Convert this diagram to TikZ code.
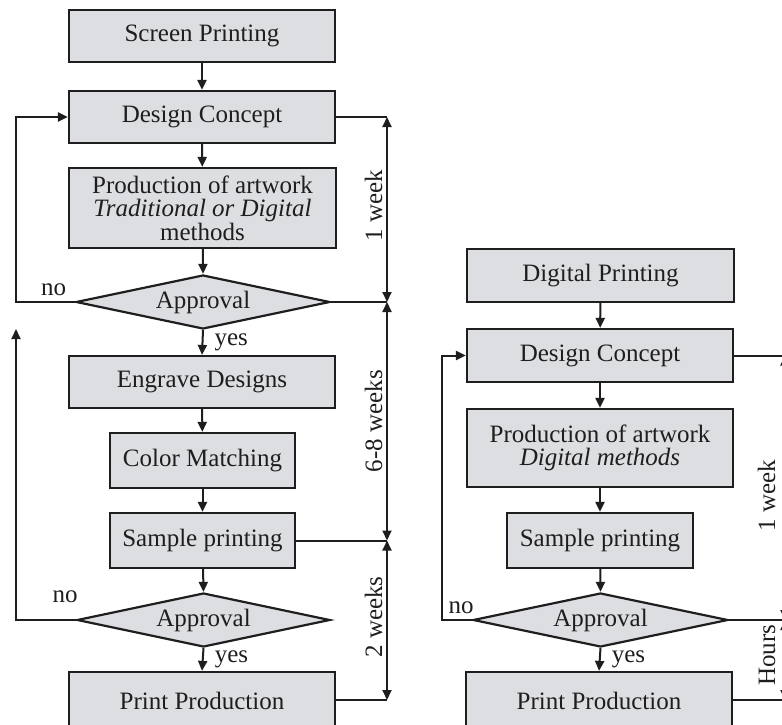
\documentclass[tikz,border=0pt]{standalone}
\usepackage{fontspec}
\setmainfont{Liberation Serif}
\usetikzlibrary{shapes.geometric,arrows.meta,calc}
\definecolor{boxfill}{RGB}{221,222,226}
\definecolor{ink}{RGB}{30,30,30}
\begin{document}
\begin{tikzpicture}[x=1pt,y=-1pt,
  every node/.style={font=\fontsize{25}{23.5}\selectfont, text=ink},
  box/.style={draw=ink, fill=boxfill, line width=2.2pt, rectangle, inner sep=0pt, align=center},
  dec/.style={draw=ink, fill=boxfill, line width=2.2pt, diamond, aspect=4.7, inner sep=0pt},
  arr/.style={draw=ink, line width=2pt, -{Triangle[length=10pt,width=9pt]}},
  dim/.style={draw=ink, line width=2pt, {Triangle[length=10pt,width=9pt]}-{Triangle[length=10pt,width=9pt]}},
  ln/.style={draw=ink, line width=2pt},
  lbl/.style={rotate=90, anchor=base, inner sep=0pt, text depth=0pt},
  yeslbl/.style={anchor=west, xshift=11pt, inner sep=0pt},
  nolbl/.style={inner sep=0pt},
]
\useasboundingbox (0,0) rectangle (782,725);
\clip (0,0) rectangle (782,725);

% ---------- left column ----------
\node[box, minimum width=266pt, minimum height=52pt] (sp) at (202,36) {Screen Printing};
\node[box, minimum width=266pt, minimum height=52pt] (dc) at (202,117) {Design Concept};
\node[box, minimum width=267pt, minimum height=80pt] (pa) at (202.5,208) {Production of artwork\\\textit{Traditional or Digital}\\methods};
\node[dec, minimum width=254pt, minimum height=54pt] (ap1) at (203,302) {Approval};
\node[box, minimum width=266pt, minimum height=52pt] (eng) at (202,382) {Engrave Designs};
\node[box, minimum width=185pt, minimum height=55pt] (cm) at (202.5,460.5) {Color Matching};
\node[box, minimum width=185pt, minimum height=55pt] (smp) at (202.5,540.5) {Sample printing};
\node[dec, minimum width=253pt, minimum height=54pt] (ap2) at (203.5,620) {Approval};
\node[box, minimum width=266pt, minimum height=58pt] (pp) at (202,701) {Print Production};

\draw[arr] (sp) -- (dc);
\draw[arr] (dc) -- (pa);
\draw[arr] (pa) -- (ap1.north);
\draw[arr] (ap1.south) -- node[yeslbl] (y1) {yes} (eng.north);
\draw[arr] (eng) -- (cm);
\draw[arr] (cm) -- (smp);
\draw[arr] (smp) -- (ap2.north);
\draw[arr] (ap2.south) -- node[yeslbl] (y2) {yes} (pp.north);

\coordinate (lx) at (16,0);
\draw[arr] (ap1.west) -- (ap1.west -| lx) |- (dc.west);
\node[nolbl] (n1) at (53.5,289.5) {no};
\coordinate (lend) at (16,329);
\draw[arr] (ap2.west) -| (lend);
\node[nolbl] (n2) at (65,596.5) {no};

\coordinate (dx) at (387,0);
\draw[ln] (dc.east) -- (dc.east -| dx);
\draw[ln] (ap1.east) -- (ap1.east -| dx);
\draw[ln] (smp.east) -- (smp.east -| dx);
\draw[ln] (pp.east |- 0,700) -- (dx |- 0,700);
\draw[dim] (dc.east -| dx) -- (ap1.east -| dx);
\draw[dim] (ap1.east -| dx) -- (smp.east -| dx);
\draw[dim] (smp.east -| dx) -- (dx |- 0,700);
\node[lbl] (w1) at ($(dc.east -| dx)!0.48!(ap1.east -| dx) + (-5,0)$) {1 week};
\node[lbl] (w2) at ($(ap1.east -| dx)!0.5!(smp.east -| dx) + (-5,0)$) {6-8 weeks};
\node[lbl] (w3) at ($(smp.east -| dx)!0.48!(dx |- 0,700) + (-5,0)$) {2 weeks};

% ---------- right column ----------
\node[box, minimum width=267pt, minimum height=53pt] (dp) at (600.5,275.5) {Digital Printing};
\node[box, minimum width=266pt, minimum height=53pt] (dc2) at (600,355.5) {Design Concept};
\node[box, minimum width=266pt, minimum height=78pt] (pa2) at (600,448) {Production of artwork\\\textit{Digital methods}};
\node[box, minimum width=186pt, minimum height=55pt] (smp2) at (600,540.5) {Sample printing};
\node[dec, minimum width=255pt, minimum height=54pt] (ap3) at (600.5,620) {Approval};
\node[box, minimum width=266pt, minimum height=58pt] (pp2) at (599,701) {Print Production};

\draw[arr] (dp) -- (dc2);
\draw[arr] (dc2) -- (pa2);
\draw[arr] (pa2) -- (smp2);
\draw[arr] (smp2) -- (ap3.north);
\draw[arr] (ap3.south) -- node[yeslbl] (y3) {yes} (pp2.north);

\coordinate (lx2) at (442,0);
\draw[arr] (ap3.west) -- (ap3.west -| lx2) |- (dc2.west);
\node[nolbl] (n3) at (461,608) {no};

\coordinate (rx) at (785,0);
\draw[ln] (dc2.east) -- (dc2.east -| rx);
\draw[ln] (ap3.east) -- (ap3.east -| rx);
\draw[ln] (pp2.east |- 0,700) -- (rx |- 0,700);
\draw[dim] (dc2.east -| rx) -- (ap3.east -| rx);
\draw[dim] (ap3.east -| rx) -- (rx |- 0,700);
\node[lbl] (w4) at ($(dc2.east -| rx)!0.53!(ap3.east -| rx) + (-10,0)$) {1 week};
\node[lbl] (w5) at ($(ap3.east -| rx)!0.44!(rx |- 0,700) + (-10,0)$) {Hours};
\end{tikzpicture}
\end{document}
